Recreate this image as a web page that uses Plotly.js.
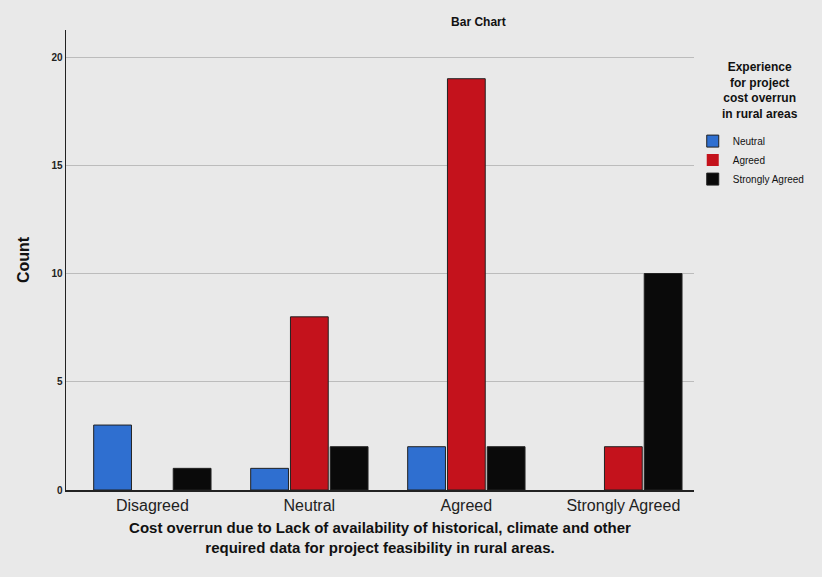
<!DOCTYPE html>
<html>
<head>
<meta charset="utf-8">
<script src="https://cdn.plot.ly/plotly-3.0.1.min.js"></script>
<style>
  html, body { margin: 0; padding: 0; background: #e9e9e9; }
  #chart { width: 822px; height: 577px; }
</style>
</head>
<body>
<div id="chart"></div>
<script>
// Categories of the x-axis question
const categories = ['Disagreed', 'Neutral', 'Agreed', 'Strongly Agreed'];

// Counts per legend group
const neutralCounts = [3, 1, 2, 0];
const agreedCounts = [0, 8, 19, 2];
const stronglyAgreedCounts = [1, 2, 2, 10];

const seriesNames = ['Neutral', 'Agreed', 'Strongly Agreed'];
const seriesColors = ['#2f6fd0', '#c4121c', '#0a0a0a'];
const yTicks = [0, 5, 10, 15, 20];

const seriesValues = [neutralCounts, agreedCounts, stronglyAgreedCounts];

const traces = seriesValues.map((vals, i) => ({
  type: 'bar',
  name: seriesNames[i],
  x: categories,
  y: vals,
  marker: {
    color: seriesColors[i],
    // empty bars get no outline
    line: { color: '#222', width: vals.map(v => (v > 0 ? 1 : 0)) }
  },
  hoverinfo: 'x+y+name'
}));

const layout = {
  width: 822,
  height: 577,
  paper_bgcolor: '#e9e9e9',
  plot_bgcolor: '#e9e9e9',
  margin: { l: 66, r: 122, t: 30, b: 87 },
  barmode: 'group',
  bargap: 0.24,
  bargroupgap: 0.05,
  font: { family: 'Liberation Sans, Arial, sans-serif', color: '#111' },
  title: {
    text: '<b>Bar Chart</b>',
    x: 0.582, xanchor: 'center',
    y: 0.962, yanchor: 'middle',
    font: { size: 12, color: '#111' }
  },
  xaxis: {
    type: 'category',
    range: [-0.55, 3.45],
    showline: true, linecolor: '#222', linewidth: 1.5,
    showgrid: false, ticks: '',
    tickfont: { size: 16, color: '#222' },
    title: {
      text: '<b>Cost overrun due to Lack of availability of historical, climate and other<br>required data for project feasibility in rural areas.</b>',
      font: { size: 15, color: '#111' },
      standoff: 10
    }
  },
  yaxis: {
    range: [0, 21.25],
    tickvals: yTicks,
    showline: true, linecolor: '#222', linewidth: 1.5,
    showgrid: true, gridcolor: '#bcbcbc', gridwidth: 1,
    zeroline: false,
    ticks: '',
    tickfont: { size: 10, color: '#222', weight: 'bold' },
    title: { text: '<b>Count</b>', font: { size: 16, color: '#111' }, standoff: 18 }
  },
  legend: {
    x: 0.998, xanchor: 'left',
    y: 0.79, yanchor: 'top',
    bgcolor: 'rgba(0,0,0,0)',
    font: { size: 10, color: '#111' },
    itemwidth: 30,
    tracegroupgap: 0
  },
  annotations: [{
    // legend heading, centred over the legend column
    text: '<b>Experience<br>for project<br>cost overrun<br>in rural areas</b>',
    xref: 'paper', yref: 'paper',
    x: 1.105, xanchor: 'center',
    y: 0.94, yanchor: 'top',
    align: 'center',
    showarrow: false,
    font: { size: 12, color: '#111' }
  }],
  showlegend: true
};

Plotly.newPlot('chart', traces, layout, { displayModeBar: false, staticPlot: true });
</script>
</body>
</html>
